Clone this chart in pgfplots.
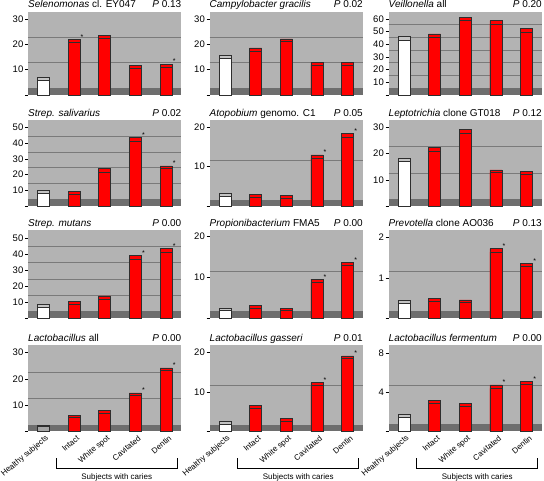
\documentclass[border=0pt]{standalone}
\usepackage{fontspec}
\setmainfont{Liberation Sans}
\usepackage{pgfplots}
\usepackage{pgfplotstable}
\pgfplotsset{compat=1.18}
\definecolor{wallc}{HTML}{B3B3B3}
\definecolor{floorc}{HTML}{6E6E6E}
\definecolor{gridc}{HTML}{7A7A7A}
\definecolor{edgec}{HTML}{2E2E2E}
\definecolor{barred}{HTML}{FF0000}
\definecolor{hltop}{HTML}{C4C4C4}
\definecolor{lowgray}{HTML}{A6A6A6}

\pgfplotsset{
 panel/.style={scale only axis, width=153.5pt, anchor=south west,
   xmin=-0.5, xmax=4.5, ymin=0, xtick=\empty,
   axis background/.style={fill=wallc},
   axis line style={draw=none}, ytick pos=left, tick align=outside,
   major tick length=3pt, ytick style={draw=black, line width=0.4pt},
   yticklabel style={font=\fontsize{9.5}{11}\selectfont, inner sep=1.5pt},
   clip=false},
 bottomrow/.style={xtick={0,...,4},
   xticklabels={Healthy subjects, Intact, White spot, Cavitated, Dentin},
   xtick style={draw=none},
   xticklabel style={xshift=5pt, yshift=-2pt, rotate=40, anchor=east, font=\fontsize{8}{9.6}\selectfont, inner sep=1pt}},
 bar/.style={ybar, bar width=12pt, bar shift=0pt, draw=edgec, line width=0.5pt},
}

\newcommand{\bars}[2]{%
 \addplot[bar, fill=hltop, restrict x to domain=-0.2:0.2] table[x=x,y=top]{#1};
 \addplot[bar, fill=#2, restrict x to domain=-0.2:0.2] table[x=x,y=front]{#1};
 \addplot[bar, fill=barred, restrict x to domain=0.8:4.2] table[x=x,y=top]{#1};
 \addplot[bar, fill=barred, restrict x to domain=0.8:4.2] table[x=x,y=front]{#1};
}
\newcommand{\gridfloor}[2]{%
 \pgfplotsinvokeforeach{#1}{\draw[gridc, line width=0.5pt] (axis cs:-0.5,##1) -- (axis cs:4.5,##1);}
 \fill[floorc] (axis cs:-0.5,0) rectangle (axis cs:4.5,#2);
}
\newcommand{\stars}[1]{\addplot[draw=none, mark=none, nodes near coords={*},
  nodes near coords style={anchor=south west, inner sep=0pt, xshift=6.5pt, font=\fontsize{7}{8}\selectfont}] coordinates {#1};}
\newcommand{\ptitle}[2]{%
 \node[anchor=base west, inner sep=0pt, font=\fontsize{10}{12}\selectfont] at ([yshift=4pt]rel axis cs:0,1) {#1};
 \node[anchor=base east, inner sep=0pt, font=\fontsize{10}{12}\selectfont] at ([yshift=4pt]rel axis cs:1,1) {\textit{P} #2};}
\newcommand{\bracket}{%
 \draw[black, line width=0.5pt] ([yshift=-27pt]axis cs:0.42,0) -- ([yshift=-37pt]axis cs:0.42,0) -- ([yshift=-37pt]axis cs:4.35,0) -- ([yshift=-27pt]axis cs:4.35,0);
 \node[font=\fontsize{8}{9.6}\selectfont, inner sep=0pt] at ([yshift=-45.5pt]axis cs:2.39,0) {Subjects with caries};}

% x = group (0 healthy, 1 intact, 2 white spot, 3 cavitated, 4 dentin)
\pgfplotstableread{
x top front
0 6.9 5.8
1 22.0 20.7
2 23.7 22.6
3 11.6 10.4
4 12.2 11.0
}\tA
\pgfplotstableread{
x top front
0 15.6 14.6
1 18.6 17.3
2 22.2 21.1
3 13.0 11.8
4 12.8 11.6
}\tB
\pgfplotstableread{
x top front
0 46.1 43.5
1 48.2 45.5
2 61.3 58.6
3 58.6 56.0
4 52.4 49.7
}\tC
\pgfplotstableread{
x top front
0 10.0 8.0
1 9.5 7.7
2 24.1 21.7
3 43.4 41.3
4 25.4 23.7
}\tD
\pgfplotstableread{
x top front
0 3.2 2.5
1 2.9 2.2
2 2.7 2.0
3 12.9 12.0
4 18.3 17.4
}\tE
\pgfplotstableread{
x top front
0 18.2 17.0
1 22.4 21.1
2 29.2 27.9
3 13.8 12.8
4 13.3 12.3
}\tF
\pgfplotstableread{
x top front
0 8.7 6.8
1 10.5 8.7
2 14.0 12.0
3 39.2 37.1
4 43.5 41.4
}\tG
\pgfplotstableread{
x top front
0 2.5 1.9
1 3.2 2.5
2 2.5 1.9
3 9.6 8.75
4 13.75 13.1
}\tH
\pgfplotstableread{
x top front
0 0.44 0.375
1 0.49 0.425
2 0.46 0.39
3 1.725 1.64
4 1.36 1.29
}\tI
\pgfplotstableread{
x top front
0 2.5 1.9
1 6.1 5.25
2 8.1 7.1
3 14.6 13.6
4 24.1 23.1
}\tJ
\pgfplotstableread{
x top front
0 2.55 1.95
1 6.6 5.8
2 3.3 2.7
3 12.3 11.6
4 19.1 18.4
}\tK
\pgfplotstableread{
x top front
0 1.78 1.48
1 3.19 2.89
2 2.89 2.55
3 4.74 4.40
4 5.11 4.81
}\tL

\begin{document}
\begin{tikzpicture}
\path[use as bounding box] (0,0) rectangle (544pt,481pt);
% ---------- row 1
\begin{axis}[panel, at={(28pt,386pt)}, height=83pt, ymax=32.8, ytick={0,10,20,30}, yticklabels={,10,20,30}]
\gridfloor{12.8,22.8}{2.8}
\bars{\tA}{white}
\stars{(1,22.0) (4,12.2)}
\ptitle{\textit{Selenomonas} cl. EY047}{0.13}
\end{axis}
\begin{axis}[panel, at={(209.5pt,386pt)}, height=83pt, ymax=32.8, ytick={0,10,20,30}, yticklabels={,10,20,30}]
\gridfloor{12.8,22.8}{2.8}
\bars{\tB}{white}
\ptitle{\textit{Campylobacter gracilis}}{0.02}
\end{axis}
\begin{axis}[panel, at={(388.5pt,386pt)}, height=83pt, ymax=65.5, ytick={0,10,...,60}, yticklabels={,10,20,30,40,50,60}]
\gridfloor{15.5,25.5,35.5,45.5,55.5}{5.5}
\bars{\tC}{white}
\ptitle{\textit{Veillonella} all}{0.20}
\end{axis}
% ---------- row 2
\begin{axis}[panel, at={(28pt,275pt)}, height=85.5pt, ymax=54.3, ytick={0,10,...,50}, yticklabels={,10,20,30,40,50}]
\gridfloor{14.3,24.3,34.3,44.3}{4.3}
\bars{\tD}{white}
\stars{(3,43.4) (4,25.4)}
\ptitle{\textit{Strep. salivarius}}{0.02}
\end{axis}
\begin{axis}[panel, at={(209.5pt,275pt)}, height=85.5pt, ymax=21.6, ytick={0,10,20}, yticklabels={,10,20}]
\gridfloor{11.6}{1.6}
\bars{\tE}{white}
\stars{(3,12.9) (4,18.3)}
\ptitle{\textit{Atopobium} genomo. C1}{0.05}
\end{axis}
\begin{axis}[panel, at={(388.5pt,275pt)}, height=85.5pt, ymax=32.7, ytick={0,10,20,30}, yticklabels={,10,20,30}]
\gridfloor{12.7,22.7}{2.7}
\bars{\tF}{white}
\ptitle{\textit{Leptotrichia} clone GT018}{0.12}
\end{axis}
% ---------- row 3
\begin{axis}[panel, at={(28pt,162.5pt)}, height=88pt, ymax=54.7, ytick={0,10,...,50}, yticklabels={,10,20,30,40,50}]
\gridfloor{14.7,24.7,34.7,44.7}{4.7}
\bars{\tG}{white}
\stars{(3,39.2) (4,43.5)}
\ptitle{\textit{Strep. mutans}}{0.00}
\end{axis}
\begin{axis}[panel, at={(209.5pt,162.5pt)}, height=88pt, ymax=21.5, ytick={0,10,20}, yticklabels={,10,20}]
\gridfloor{11.5}{1.8}
\bars{\tH}{white}
\stars{(3,9.6) (4,13.75)}
\ptitle{\textit{Propionibacterium} FMA5}{0.00}
\end{axis}
\begin{axis}[panel, at={(388.5pt,162.5pt)}, height=88pt, ymax=2.17, ytick={0,1,2}, yticklabels={,1,2}]
\gridfloor{1.17}{0.18}
\bars{\tI}{white}
\stars{(3,1.725) (4,1.36)}
\ptitle{\textit{Prevotella} clone AO036}{0.13}
\end{axis}
% ---------- row 4
\begin{axis}[panel, bottomrow, at={(28pt,49.5pt)}, height=86pt, ymax=32.6, ytick={0,10,20,30}, yticklabels={,10,20,30}]
\gridfloor{12.6,22.6}{2.6}
\bars{\tJ}{lowgray}
\stars{(3,14.6) (4,24.1)}
\ptitle{\textit{Lactobacillus} all}{0.00}
\bracket
\end{axis}
\begin{axis}[panel, bottomrow, at={(209.5pt,49.5pt)}, height=86pt, ymax=21.7, ytick={0,10,20}, yticklabels={,10,20}]
\gridfloor{11.7}{1.7}
\bars{\tK}{white}
\stars{(3,12.3) (4,19.1)}
\ptitle{\textit{Lactobacillus gasseri}}{0.01}
\bracket
\end{axis}
\begin{axis}[panel, bottomrow, at={(388.5pt,49.5pt)}, height=86pt, ymax=8.75, ytick={0,4,8}, yticklabels={,4,8}]
\gridfloor{4.75}{0.75}
\bars{\tL}{white}
\stars{(3,4.74) (4,5.11)}
\ptitle{\textit{Lactobacillus fermentum}}{0.00}
\bracket
\end{axis}
\end{tikzpicture}
\end{document}
